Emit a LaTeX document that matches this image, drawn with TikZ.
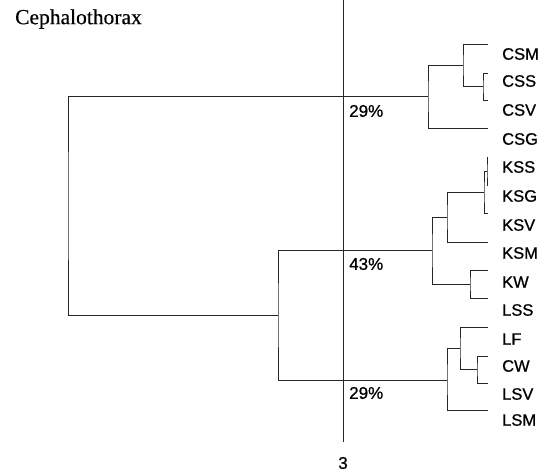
\documentclass[tikz,border=0pt]{standalone}
\usepackage{fontspec}
\setmainfont{Liberation Serif}
\newfontfamily\labfont[FakeBold=0.8]{Liberation Sans}
\newfontfamily\titlefont[FakeBold=0.4]{Liberation Serif}
\begin{document}
\begin{tikzpicture}[x=1pt,y=-1pt,
  tree/.style={line width=1pt,black!85},
  leaflab/.style={anchor=west,inner sep=0pt,font=\labfont\fontsize{16.5}{19}\selectfont},
  pct/.style={anchor=west,inner sep=0pt,font=\labfont\fontsize{17}{20}\selectfont}]
\useasboundingbox (0,0) rectangle (548,472);
% title
\node[anchor=west,inner sep=0pt,font=\titlefont\fontsize{21.5}{24}\selectfont] (title) at (15,19) {Cephalothorax};
% leaf ends
\coordinate (CSMe) at (488,44);
\coordinate (CSSe) at (488,73);
\coordinate (CSVe) at (488,100);
\coordinate (CSGe) at (488,128);
\coordinate (KSSe) at (488,157);
\coordinate (KSGe) at (488,185);
\coordinate (KSVe) at (488,213);
\coordinate (KSMe) at (488,242);
\coordinate (KWe)  at (488,270);
\coordinate (LSSe) at (488,298);
\coordinate (LFe)  at (488,327);
\coordinate (CWe)  at (488,356);
\coordinate (LSVe) at (488,383);
\coordinate (LSMe) at (488,410);
% labels
\node[leaflab] (CSM) at (502,54) {CSM};
\node[leaflab] (CSS) at (502,81) {CSS};
\node[leaflab] (CSV) at (502,110) {CSV};
\node[leaflab] (CSG) at (502,139) {CSG};
\node[leaflab] (KSS) at (502,167) {KSS};
\node[leaflab] (KSG) at (502,196) {KSG};
\node[leaflab] (KSV) at (502,225) {KSV};
\node[leaflab] (KSM) at (502,253) {KSM};
\node[leaflab] (KW)  at (502,282) {KW};
\node[leaflab] (LSS) at (502,310) {LSS};
\node[leaflab] (LF)  at (502,339) {LF};
\node[leaflab] (CW)  at (502,366) {CW};
\node[leaflab] (LSV) at (502,394) {LSV};
\node[leaflab] (LSM) at (502,420) {LSM};
% junctions
\coordinate (jCSSV) at (483,86.5);
\coordinate (jCSM)  at (463,65);
\coordinate (jCS)   at (428,96.5);
\coordinate (jKSSG) at (487,171);
\coordinate (jKSV)  at (484,192);
\coordinate (jKSM)  at (447,217);
\coordinate (jKWL)  at (470,284);
\coordinate (jK)    at (432,250.5);
\coordinate (jCWL)  at (477,369.5);
\coordinate (jLF)   at (460,348);
\coordinate (jL)    at (447,380);
\coordinate (jKL)   at (278,315);
\coordinate (jroot) at (68,206);
% tree
\draw[tree] (CSSe) -| (jCSSV) |- (CSVe);
\draw[tree] (CSMe) -| (jCSM) |- (jCSSV);
\draw[tree] (jCSM) -| (jCS) |- (CSGe);
\draw[tree] (KSSe) -| (jKSSG) |- (KSGe);
\draw[tree] (jKSSG) -| (jKSV) |- (KSVe);
\draw[tree] (jKSV) -| (jKSM) |- (KSMe);
\draw[tree] (KWe) -| (jKWL) |- (LSSe);
\draw[tree] (jKSM) -| (jK) |- (jKWL);
\draw[tree] (CWe) -| (jCWL) |- (LSVe);
\draw[tree] (LFe) -| (jLF) |- (jCWL);
\draw[tree] (jLF) -| (jL) |- (LSMe);
\draw[tree] (jK) -| (jKL) |- (jL);
\draw[tree] (jCS) -| (jroot) |- (jKL);
% cut line
\coordinate (cutTop) at (343,0);
\node[pct,anchor=center] (three) at (343,463) {3};
\draw[tree] (cutTop) -- (343,442);
\node[pct] (p1) at (349,111) {29\%};
\node[pct] (p2) at (349,264) {43\%};
\node[pct] (p3) at (349,393) {29\%};
\end{tikzpicture}
\end{document}
